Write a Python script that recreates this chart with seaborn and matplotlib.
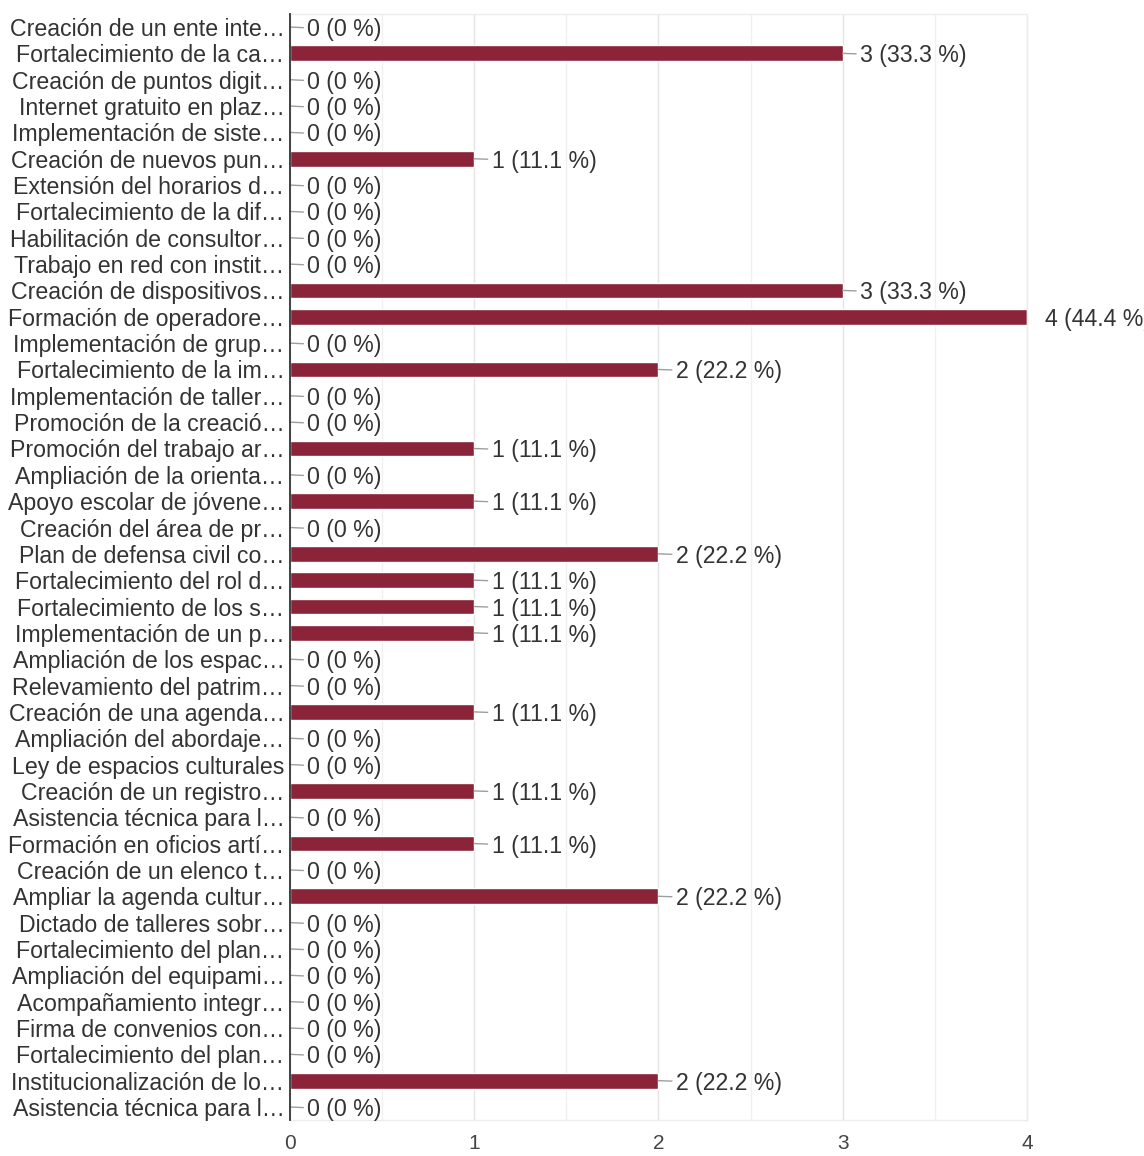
import matplotlib
matplotlib.use("Agg")
import matplotlib.pyplot as plt
import seaborn as sns
import pandas as pd
import numpy as np

# data -------------------------------------------------------------------------
labels = [
    "Creación de un ente inte…", "Fortalecimiento de la ca…", "Creación de puntos digit…",
    "Internet gratuito en plaz…", "Implementación de siste…", "Creación de nuevos pun…",
    "Extensión del horarios d…", "Fortalecimiento de la dif…", "Habilitación de consultor…",
    "Trabajo en red con instit…", "Creación de dispositivos…", "Formación de operadore…",
    "Implementación de grup…", "Fortalecimiento de la im…", "Implementación de taller…",
    "Promoción de la creació…", "Promoción del trabajo ar…", "Ampliación de la orienta…",
    "Apoyo escolar de jóvene…", "Creación del área de pr…", "Plan de defensa civil co…",
    "Fortalecimiento del rol d…", "Fortalecimiento de los s…", "Implementación de un p…",
    "Ampliación de los espac…", "Relevamiento del patrim…", "Creación de una agenda…",
    "Ampliación del abordaje…", "Ley de espacios culturales", "Creación de un registro…",
    "Asistencia técnica para l…", "Formación en oficios artí…", "Creación de un elenco t…",
    "Ampliar la agenda cultur…", "Dictado de talleres sobr…", "Fortalecimiento del plan…",
    "Ampliación del equipami…", "Acompañamiento integr…", "Firma de convenios con…",
    "Fortalecimiento del plan…", "Institucionalización de lo…", "Asistencia técnica para l…",
]
counts = [0, 3, 0, 0, 0, 1, 0, 0, 0, 0, 3, 4, 0, 2, 0, 0, 1, 0, 1, 0, 2,
          1, 1, 1, 0, 0, 1, 0, 0, 1, 0, 1, 0, 2, 0, 0, 0, 0, 0, 0, 2, 0]
total = 9

# plot -------------------------------------------------------------------------
sns.set_style("white")
plt.rcParams['font.family'] = ['Liberation Sans', 'DejaVu Sans']

bar_color = "#8b2439"
text_color = "#333333"
fs = 16.7

df = pd.DataFrame({"pos": [str(i) for i in range(len(labels))], "count": counts})

fig = plt.figure(figsize=(11.44, 11.56), dpi=100)
ax = fig.add_axes([0.2535, 0.031, 0.6442, 0.957])
sns.barplot(data=df, y="pos", x="count", orient="h", color=bar_color,
            width=0.6, saturation=1, ax=ax)

ax.set_xlim(0, 4)
ax.set_ylim(len(labels) - 0.5, -0.5)
ax.set_yticks(range(len(labels)))
ax.set_yticklabels(labels, fontsize=fs, color=text_color, va="center_baseline")
ax.set_xticks([0, 1, 2, 3, 4])
ax.set_xticklabels(["0", "1", "2", "3", "4"], fontsize=15, color="#444444")
ax.set_xticks(np.arange(0.5, 4, 1), minor=True)
ax.tick_params(axis="both", length=0, which="both")
ax.tick_params(axis="y", pad=4)
ax.tick_params(axis="x", pad=10)
ax.set_xlabel("")
ax.set_ylabel("")

ax.grid(axis="x", which="major", color="#e4e4e4", linewidth=1)
ax.grid(axis="x", which="minor", color="#f0f0f0", linewidth=1)
ax.set_axisbelow(True)
for s in ["top", "bottom", "right"]:
    ax.spines[s].set_color("#ececec")
    ax.spines[s].set_linewidth(1)
ax.spines["left"].set_color("#333333")
ax.spines["left"].set_linewidth(1.3)
ax.spines["left"].set_zorder(5)

vmax = max(counts)
for i, v in enumerate(counts):
    pct = "0" if v == 0 else f"{v / total * 100:.1f}"
    txt = f"{v} ({pct} %)"
    if v == vmax:
        ax.annotate(txt, xy=(v, i), xytext=(13, 0), textcoords="offset points",
                    va="center_baseline", ha="left", fontsize=fs, color=text_color,
                    annotation_clip=False)
    else:
        ax.annotate(txt, xy=(v, i), xytext=(12.5, 0), textcoords="offset points",
                    va="center_baseline", ha="left", fontsize=fs, color=text_color,
                    annotation_clip=False,
                    arrowprops=dict(arrowstyle="-", color="#9e9e9e", lw=1,
                                    shrinkA=0.5, shrinkB=0))

fig.savefig("out.png", dpi=100)
